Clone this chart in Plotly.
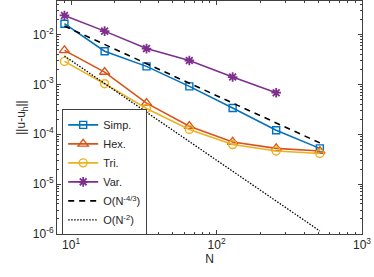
import plotly.graph_objects as go

N_all = [9, 17, 33, 65, 129, 257, 513]
N_var = [9, 17, 33, 65, 129, 257]

simp = [0.0164, 0.0046, 0.00229, 0.00091, 0.000336, 0.00012, 0.000052]
hex_ = [0.0048, 0.00176, 0.00042, 0.000145, 0.000070, 0.000052, 0.000046]
tri = [0.00288, 0.00103, 0.000327, 0.000124, 0.000062, 0.000046, 0.000041]
var = [0.024, 0.01165, 0.0052, 0.0030, 0.0014, 0.00068]

ref_N = [9, 513]
ref43 = [0.0147, 0.000067]
ref2 = [0.0037, 1.15e-6]

x_tickvals = [10, 100, 1000]
x_ticktext = ["10<sup>1</sup>", "10<sup>2</sup>", "10<sup>3</sup>"]
y_tickvals = [1e-6, 1e-5, 1e-4, 1e-3, 1e-2]
y_ticktext = ["10<sup>-6</sup>", "10<sup>-5</sup>", "10<sup>-4</sup>", "10<sup>-3</sup>", "10<sup>-2</sup>"]

blue = "#0072BD"
orange = "#D95319"
yellow = "#EDB120"
purple = "#7E2F8E"

fig = go.Figure()
fig.add_trace(go.Scatter(x=N_all, y=simp, name="Simp.", mode="lines+markers",
                         line=dict(color=blue, width=1.6),
                         marker=dict(symbol="square-open", size=7, color=blue, line=dict(width=1.4))))
fig.add_trace(go.Scatter(x=N_all, y=hex_, name="Hex.", mode="lines+markers",
                         line=dict(color=orange, width=1.6),
                         marker=dict(symbol="triangle-up-open", size=9, color=orange, line=dict(width=1.4))))
fig.add_trace(go.Scatter(x=N_all, y=tri, name="Tri.", mode="lines+markers",
                         line=dict(color=yellow, width=1.6),
                         marker=dict(symbol="circle-open", size=8, color=yellow, line=dict(width=1.4))))
fig.add_trace(go.Scatter(x=N_var, y=var, name="Var.", mode="lines+markers",
                         line=dict(color=purple, width=1.6),
                         marker=dict(symbol="asterisk-open", size=8, color=purple, line=dict(width=1.8, color=purple))))
fig.add_trace(go.Scatter(x=ref_N, y=ref43, name="O(N<sup>-4/3</sup>)", mode="lines",
                         line=dict(color="black", width=1.6, dash="6px,5px")))
fig.add_trace(go.Scatter(x=ref_N, y=ref2, name="O(N<sup>-2</sup>)", mode="lines",
                         line=dict(color="black", width=1.3, dash="1.5px,1.5px")))

axcol = "#404040"
fig.update_layout(
    width=374, height=277,
    margin=dict(l=57, r=12, t=1, b=43),
    plot_bgcolor="white", paper_bgcolor="white",
    font=dict(family="Liberation Sans, Arial, sans-serif", size=12, color="#262626"),
    showlegend=True,
    legend=dict(x=0.017, y=0.535, xanchor="left", yanchor="top",
                bordercolor=axcol, borderwidth=1, bgcolor="white",
                font=dict(size=11), itemwidth=30, tracegroupgap=0),
)
fig.update_xaxes(type="log", range=[0.903, 3.0], showgrid=False, zeroline=False, automargin=False,
                 showline=True, linecolor=axcol, linewidth=1, mirror="ticks",
                 ticks="inside", ticklen=4, tickcolor=axcol,
                 tickvals=x_tickvals, ticktext=x_ticktext,
                 minor=dict(ticks="inside", ticklen=2, tickcolor=axcol,
                            tickvals=[8, 9, 20, 30, 40, 50, 60, 70, 80, 90, 200, 300, 400, 500, 600, 700, 800, 900]),
                 title=dict(text="N", standoff=2, font=dict(size=12)),
                 tickfont=dict(size=12))
fig.update_yaxes(type="log", range=[-6, -1.33], showgrid=False, zeroline=False, automargin=False,
                 showline=True, linecolor=axcol, linewidth=1, mirror="ticks",
                 ticks="inside", ticklen=4, tickcolor=axcol,
                 tickvals=y_tickvals, ticktext=y_ticktext,
                 minor=dict(ticks="inside", ticklen=2, tickcolor=axcol,
                            tickvals=[m * 10.0 ** e for e in range(-6, -1) for m in range(2, 10)] + [0.02, 0.03, 0.04]),
                 title=dict(text="||u-u<sub>h</sub>||", standoff=4, font=dict(size=12)),
                 tickfont=dict(size=12))

fig.write_html("out.html", config={"displayModeBar": False},
               post_script="document.body.style.margin='0px';")
